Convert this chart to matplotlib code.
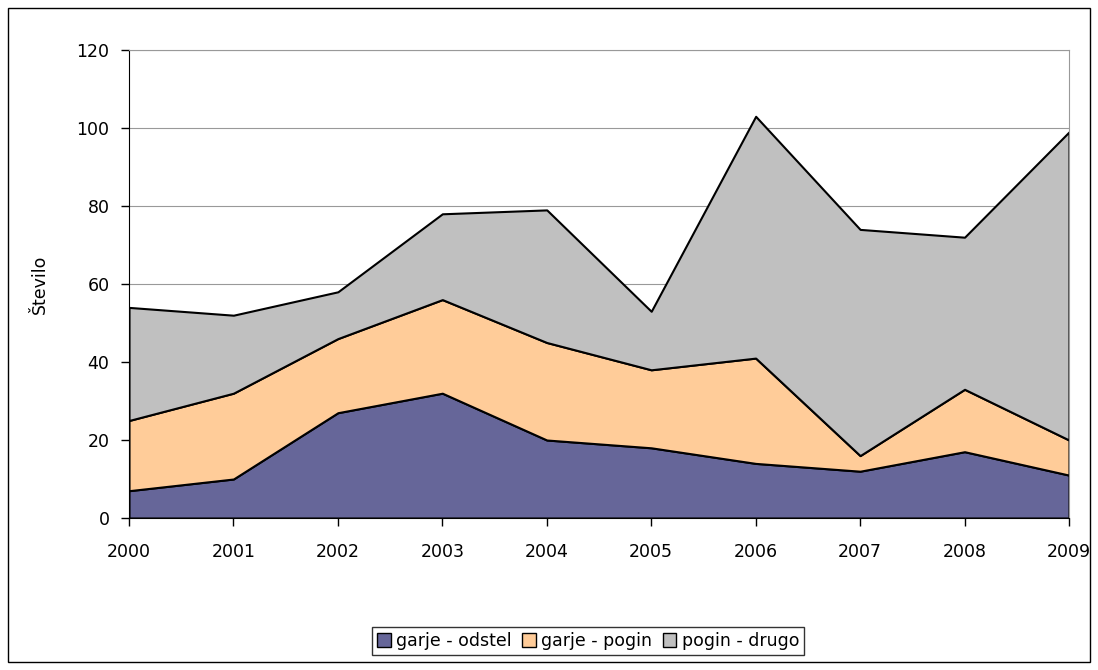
import numpy as np
import matplotlib
matplotlib.use('Agg')
import matplotlib.pyplot as plt
from matplotlib.patches import Rectangle

years = [2000, 2001, 2002, 2003, 2004, 2005, 2006, 2007, 2008, 2009]
odstel = [7, 10, 27, 32, 20, 18, 14, 12, 17, 11]
pogin = [18, 22, 19, 24, 25, 20, 27, 4, 16, 9]
drugo = [29, 20, 12, 22, 34, 15, 62, 58, 39, 79]
labels = ['garje - odstel', 'garje - pogin', 'pogin - drugo']
colors = ['#666699', '#FFCC99', '#C0C0C0']

plt.rcParams['font.family'] = ['DejaVu Sans']
W, H = 1098, 670
fig = plt.figure(figsize=(W / 100, H / 100), dpi=100)
ax = fig.add_axes([129 / W, 1 - 518 / H, (1069 - 129) / W, (518 - 50) / H])

stacks = ax.stackplot(years, odstel, pogin, drugo, colors=colors, labels=labels,
                      edgecolor='black', linewidth=1.5)
ax.set_xlim(2000, 2009)
ax.set_ylim(0, 120)
ax.set_yticks(range(0, 121, 20))
ax.set_xticks(years)
ax.yaxis.grid(True, color='#999999', linewidth=0.8)
ax.set_axisbelow(True)
for s in ['top', 'right']:
    ax.spines[s].set_color('#999999')
for s in ['left', 'bottom']:
    ax.spines[s].set_color('black')
ax.tick_params(axis='both', labelsize=12.5, length=6, width=1, color='black')
ax.tick_params(axis='x', pad=12)
ax.tick_params(axis='y', pad=8)
ax.set_ylabel('Število', fontsize=12.5, labelpad=20)

leg = fig.legend(loc='center', bbox_to_anchor=(588 / W, 1 - 641 / H), ncol=3,
                 fontsize=12.5, frameon=True, fancybox=False, handlelength=0.8,
                 handleheight=0.8, handletextpad=0.3, columnspacing=0.6,
                 borderpad=0.3)
leg.get_frame().set_edgecolor('black')
leg.get_frame().set_linewidth(1)
for h in leg.legend_handles:
    h.set_edgecolor('black')
    h.set_linewidth(1)

fig.patches.append(Rectangle((8 / W, 8 / H), (1090 - 8) / W, (662 - 8) / H,
                             transform=fig.transFigure, fill=False,
                             edgecolor='black', linewidth=1))
fig.savefig('out.png', dpi=100)
